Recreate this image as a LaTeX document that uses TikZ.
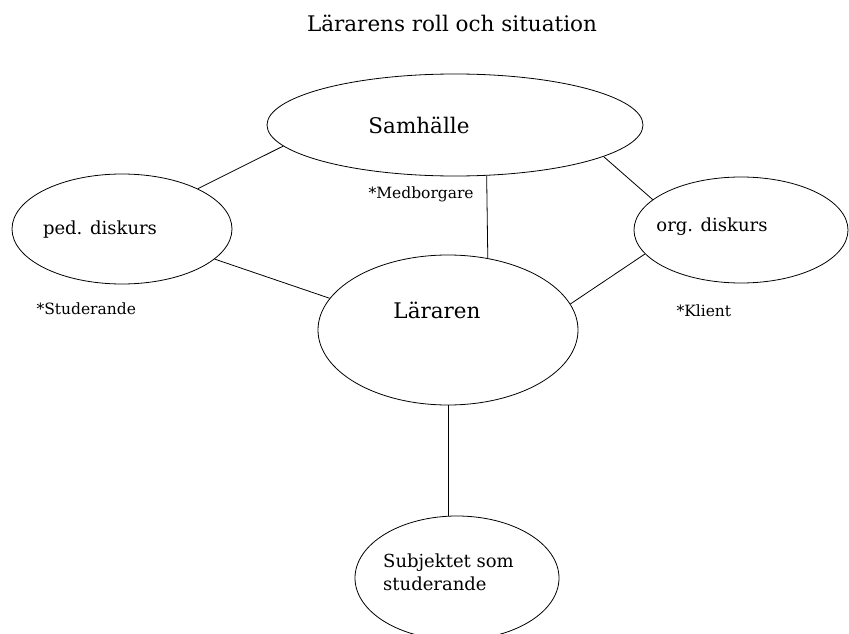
\documentclass[tikz,border=0pt]{standalone}
\usepackage{fontspec}
\setmainfont{DejaVu Serif}
\usetikzlibrary{shapes.geometric}

\begin{document}
\begin{tikzpicture}[x=1pt,y=-1pt,
    ring/.style={draw, ellipse, inner sep=0pt, line width=0.8pt},
    bigtext/.style={anchor=base, font=\fontsize{21.5}{26}\selectfont},
    midtext/.style={anchor=base, font=\fontsize{18}{23}\selectfont},
    notetext/.style={anchor=base west, font=\fontsize{15.5}{19}\selectfont}]
    \useasboundingbox (0,0) rectangle (849,634);
    \node[bigtext] (title) at (452,32) {Lärarens roll och situation}; % title
    \node[ring, minimum width=376pt, minimum height=102pt] (soc) at (455,125) {}; % society
    \node[ring, minimum width=220pt, minimum height=110pt] (ped) at (122,229) {}; % ped. discourse
    \node[ring, minimum width=214pt, minimum height=106pt] (org) at (741,230) {}; % org. discourse
    \node[ring, minimum width=260pt, minimum height=150pt] (lar) at (448,330) {}; % teacher
    \node[ring, minimum width=204pt, minimum height=124pt] (sub) at (457,578) {}; % subject
    \node[bigtext] (soctext) at (419,133) {Samhälle};
    \node[bigtext] (lartext) at (437,318) {Läraren};
    \node[midtext] (pedtext) at (100,234) {ped. diskurs};
    \node[midtext] (orgtext) at (712,231) {org. diskurs};
    \node[midtext, anchor=north west, align=left, inner sep=0pt] (subtext) at (383,554) {Subjektet som\\studerande};
    \node[notetext] (medb) at (365,198) {*Medborgare};
    \node[notetext] (stud) at (33,314) {*Studerande};
    \node[notetext] (klient) at (673,316) {*Klient};
    \draw[line width=0.8pt] (soc.187.5) -- (ped.28.7); % society - ped
    \draw[line width=0.8pt] (soc.348.2) -- (org.161.2); % society - org
    \draw[line width=0.8pt] (soc.302.5) -- (lar.61.6); % society - teacher
    \draw[line width=0.8pt] (ped.342.5) -- (lar.165); % ped - teacher
    \draw[line width=0.8pt] (org.194.9) -- (lar.12.1); % org - teacher
    \draw[line width=0.8pt] (lar.south) -- (lar.south |- sub.north); % teacher - subject
\end{tikzpicture}
\end{document}
